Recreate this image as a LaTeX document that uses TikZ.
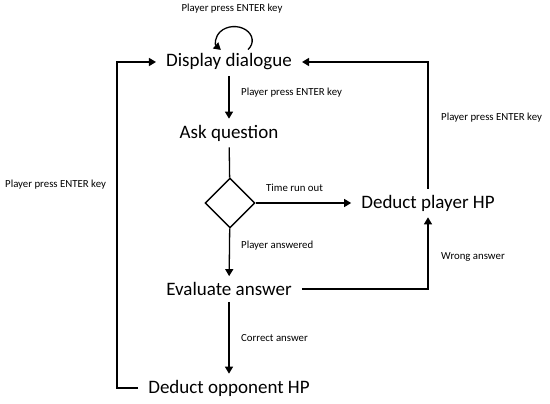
\documentclass[tikz,border=0pt]{standalone}
\usepackage{fontspec}
\setmainfont{Carlito}
\usepackage{tikz}
\usetikzlibrary{arrows.meta,positioning,shapes.geometric}
\tikzset{
  st/.style={font=\fontsize{19}{22}\selectfont,inner xsep=10pt,inner ysep=6pt},
  dc/.style={diamond,draw,line width=1.4pt,minimum width=50pt,minimum height=50pt,inner sep=0pt},
  lb/.style={font=\fontsize{10.8}{12}\selectfont,anchor=west,inner sep=0pt},
  ar/.style={-{Triangle[length=7pt,width=8pt]},line width=1.3pt},
  ln/.style={line width=1.3pt}
}
\begin{document}
\begin{tikzpicture}[x=1pt,y=-1pt]
\useasboundingbox (0,0) rectangle (550,404);
\node[st] (dd) at (229,62) {Display dialogue};
\node[st] (aq) at (229,133) {Ask question};
\node[dc] (dm) at (230,203) {};
\node[st] (dp) at (428,203) {Deduct player HP};
\node[st] (ea) at (229,289) {Evaluate answer};
\node[st] (do) at (229,388) {Deduct opponent HP};
\coordinate (lft) at (117,388);
\draw[ar] ([xshift=19pt,yshift=-2pt]dd.north) arc[start angle=40,end angle=-222,x radius=18,y radius=14];
\draw[ar] (dd) -- (aq);
\draw[ln] (aq) -- (dm);
\draw[ar] (dm) -- (dp);
\draw[ar] (dm) -- (ea);
\draw[ar] (ea) -- (do);
\draw[ar] (ea.east) -| (dp.south);
\draw[ar] (dp.north) |- (dd.east);
\draw[ar] (do.west) -- (lft) |- (dd.west);
\node[lb,anchor=center] (l0) at (232,9) {Player press ENTER key};
\foreach \i/\x/\y/\t in {1/241/93/Player press ENTER key,2/266/188/Time run out,3/241/246/Player answered,4/441/257/Wrong answer,5/441/118/Player press ENTER key,6/241/338/Correct answer,7/5/185/Player press ENTER key}{\node[lb] (l\i) at (\x,\y) {\t};}
\end{tikzpicture}
\end{document}
